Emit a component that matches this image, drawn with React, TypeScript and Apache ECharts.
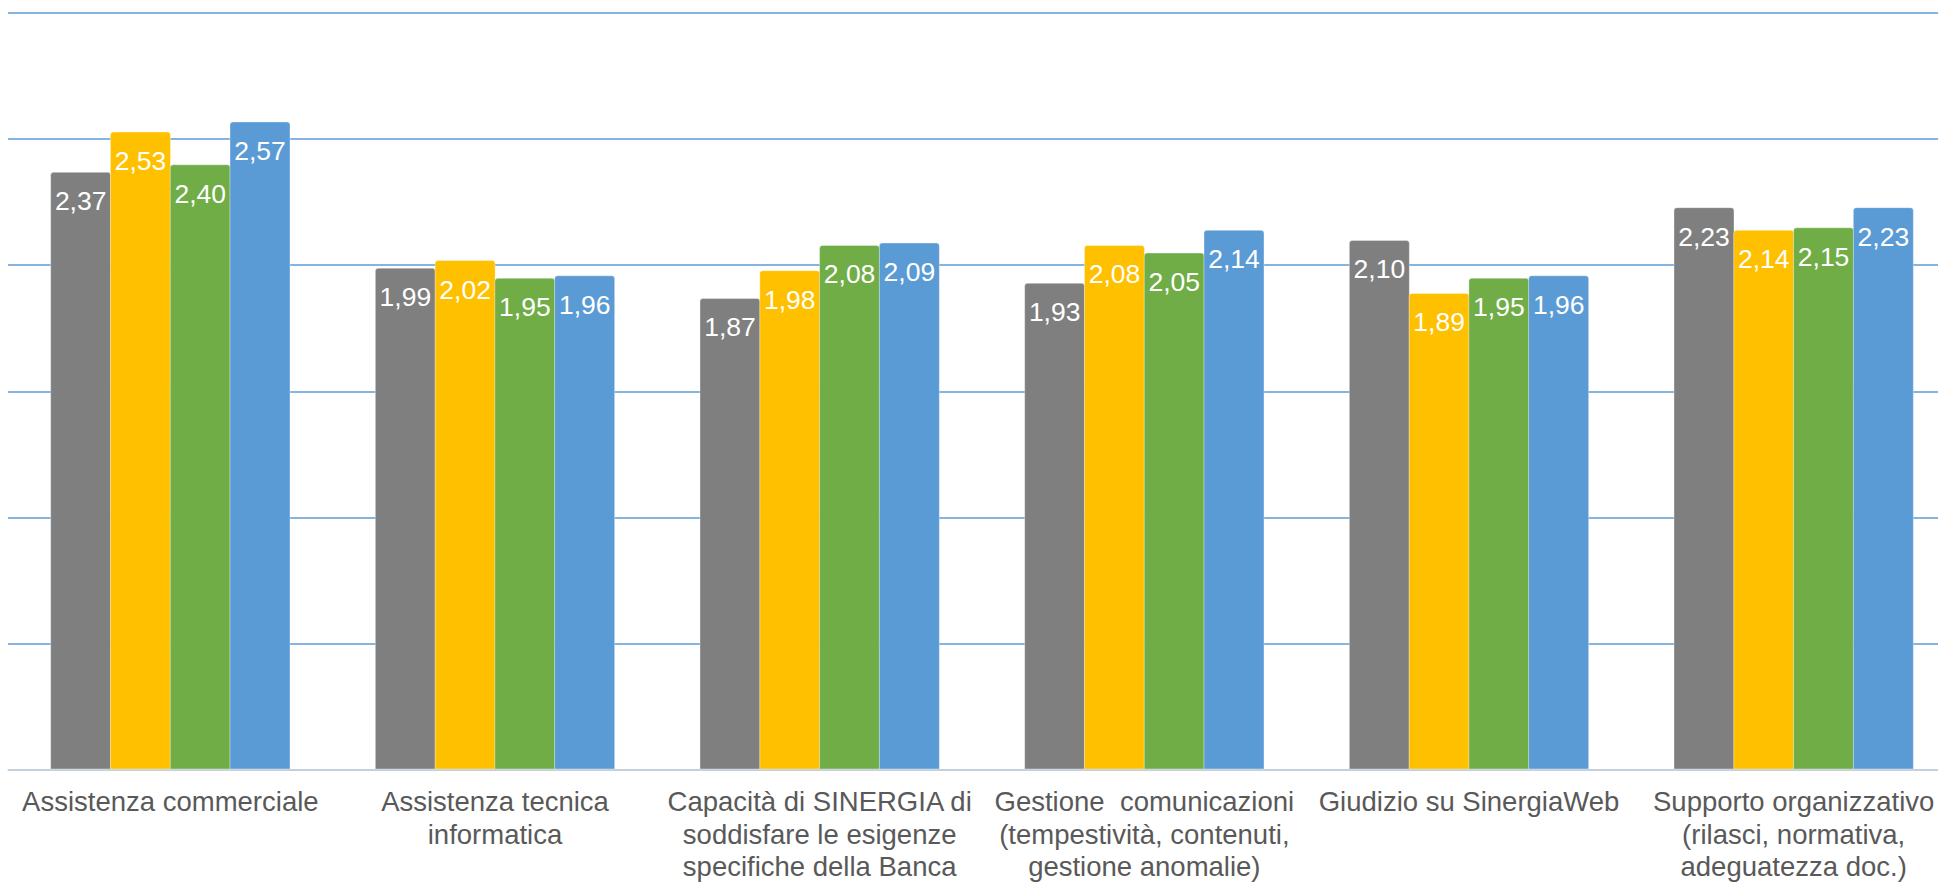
import React, { useEffect, useRef } from "react";
import * as echarts from "echarts";

// Survey areas (x axis), line breaks as they wrap under each group
const categories: string[] = [
  "Assistenza commerciale",
  "Assistenza tecnica\ninformatica",
  "Capacità di SINERGIA di\nsoddisfare le esigenze\nspecifiche della Banca",
  "Gestione  comunicazioni\n(tempestività, contenuti,\ngestione anomalie)",
  "Giudizio su SinergiaWeb",
  "Supporto organizzativo\n(rilasci, normativa,\nadeguatezza doc.)",
];

// Average ratings per survey wave
const wave1: number[] = [2.37, 1.99, 1.87, 1.93, 2.1, 2.23];
const wave2: number[] = [2.53, 2.02, 1.98, 2.08, 1.89, 2.14];
const wave3: number[] = [2.4, 1.95, 2.08, 2.05, 1.95, 2.15];
const wave4: number[] = [2.57, 1.96, 2.09, 2.14, 1.96, 2.23];

const waveNames: string[] = ["Rilevazione 1", "Rilevazione 2", "Rilevazione 3", "Rilevazione 4"];
const waveColors: string[] = ["#7f7f7f", "#ffc000", "#70ad47", "#5b9bd5"];

const FONT = "'Liberation Sans', Arial, Helvetica, sans-serif";

const fmt = (v: number) => v.toFixed(2).replace(".", ",");

export default function App() {
  const ref = useRef<HTMLDivElement>(null);

  useEffect(() => {
    if (!ref.current) return;
    const chart = echarts.init(ref.current, undefined, { renderer: "svg" });
    const waves = [wave1, wave2, wave3, wave4];
    chart.setOption({
      animation: false,
      backgroundColor: "#ffffff",
      grid: { left: 8, top: 13, width: 1948, height: 758.5, containLabel: false },
      xAxis: {
        type: "category",
        data: categories,
        axisLine: { show: true, lineStyle: { color: "#d9d9d9", width: 1.5 } },
        axisTick: { show: false },
        axisLabel: {
          interval: 0,
          margin: 16,
          color: "#595959",
          fontFamily: FONT,
          fontSize: 27.5,
          lineHeight: 32.5,
          align: "center",
        },
      },
      yAxis: {
        type: "value",
        min: 0,
        max: 3,
        interval: 0.5,
        axisLabel: { show: false },
        axisLine: { show: false },
        axisTick: { show: false },
        splitLine: { show: true, lineStyle: { color: "#5b9bd5", width: 1.6 } },
      },
      series: waves.map((data, i) => ({
        name: waveNames[i],
        type: "bar",
        data,
        barWidth: 61,
        barGap: "-2%",
        itemStyle: {
          color: waveColors[i],
          borderRadius: [3, 3, 0, 0],
          borderColor: "rgba(255,255,255,0.35)",
          borderWidth: 1,
        },
        label: {
          show: true,
          position: "insideTop",
          distance: 16,
          color: "#ffffff",
          fontFamily: FONT,
          fontSize: 26.5,
          formatter: (p: any) => fmt(p.value),
        },
      })),
    });
    return () => chart.dispose();
  }, []);

  return (
    <div
      style={{
        position: "fixed",
        left: 0,
        top: 0,
        width: "100vw",
        height: "100vh",
        overflow: "hidden",
        background: "#ffffff",
      }}
    >
      <div ref={ref} style={{ width: 1975, height: 883 }} />
    </div>
  );
}
